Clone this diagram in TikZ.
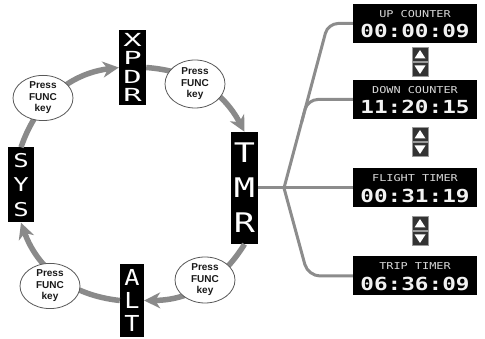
\documentclass[tikz,border=0pt]{standalone}
\usepackage{fontspec}
\usetikzlibrary{arrows.meta,shapes.geometric,calc}
\newfontfamily\pressfont{Liberation Sans}
\newfontfamily\lcdX[FakeStretch=1.7]{DejaVu Sans Mono}
\newfontfamily\lcdT[FakeStretch=1.3]{DejaVu Sans Mono}
\newfontfamily\lcdA[FakeStretch=1.15]{DejaVu Sans Mono}
\newfontfamily\lcdS[FakeStretch=1.35]{DejaVu Sans Mono}
\newfontfamily\lcdL[FakeStretch=1.25]{DejaVu Sans Mono}
\newfontfamily\lcdD[FakeStretch=1.26]{DejaVu Sans Mono}
\definecolor{arcgray}{HTML}{8A8A8A}
\definecolor{conngray}{HTML}{8C8C8C}
\begin{document}
\begin{tikzpicture}[x=1pt,y=1pt,
  lcdbox/.style={fill=black, text=white, inner sep=0pt, align=center},
  arcarrow/.style={draw=arcgray, line width=5.5pt, -{Stealth[length=16pt,width=16pt,inset=5pt,fill=arcgray]}},
  pressnode/.style={ellipse, draw=black!65, line width=0.8pt, fill=white, inner sep=0pt, align=center,
    font=\pressfont\bfseries\fontsize{10}{11.5}\selectfont, text=black!90},
  timerbox/.style={fill=black, minimum width=124pt, minimum height=39pt, inner sep=0pt},
  timerlbl/.style={text=black!15, font=\lcdL\fontsize{9.5}{10}\selectfont, inner sep=0pt},
  timerdig/.style={text=black!5, font=\lcdD\bfseries\fontsize{18}{18}\selectfont, inner sep=0pt},
  conn/.style={draw=conngray, line width=3pt},
  updown/.pic={
    \filldraw[fill=black!80, draw=black!40, line width=0.8pt] (-8,0.8) rectangle (8,14.5);
    \fill[white] (-5.5,3.5) -- (5.5,3.5) -- (0,12) -- cycle;
    \filldraw[fill=black!80, draw=black!40, line width=0.8pt] (-8,-0.8) rectangle (8,-14.5);
    \fill[white] (-5.5,-3.5) -- (5.5,-3.5) -- (0,-12) -- cycle;
  }
]
\useasboundingbox (0,0) rectangle (485,339);

% mode boxes
\node[lcdbox, minimum width=27pt, minimum height=75pt, font=\lcdX\fontsize{18}{18.5}\selectfont] (xpdr) at (132.5,271.5) {X\\P\\D\\R};
\node[lcdbox, minimum width=27pt, minimum height=112pt, font=\lcdT\fontsize{27}{35}\selectfont] (tmr) at (244.5,151) {T\\M\\R};
\node[lcdbox, minimum width=24pt, minimum height=73pt, font=\lcdA\fontsize{22}{23}\selectfont] (alt) at (132,38.5) {A\\L\\T};
\node[lcdbox, minimum width=26pt, minimum height=75pt, font=\lcdS\fontsize{19}{24.5}\selectfont] (sys) at (21,154) {S\\Y\\S};

% cycle arrows
\draw[arcarrow] (sys.north) to[bend left=32] (xpdr.west);
\draw[arcarrow] (xpdr.east) to[bend left=29] (tmr.north);
\draw[arcarrow] (tmr.south) to[bend left=29] (alt.east);
\draw[arcarrow] (alt.west) to[bend left=32] (sys.south);

% press func key ellipses
\node[pressnode, minimum width=60pt, minimum height=42pt] (e1) at (43,241) {Press\\FUNC\\key};
\node[pressnode, minimum width=60pt, minimum height=48pt] (e2) at (195,255) {Press\\FUNC\\key};
\node[pressnode, minimum width=60pt, minimum height=46pt] (e3) at (205,59) {Press\\FUNC\\key};
\node[pressnode, minimum width=60pt, minimum height=42pt] (e4) at (50,53) {Press\\FUNC\\key};

% timer boxes
\node[timerbox] (up) at (415,315.5) {};
\node[timerlbl] (uplbl) at ($(up.center)+(0,9.5)$) {UP COUNTER};
\node[timerdig] (updig) at ($(up.center)+(0,-7.5)$) {00:00:09};

\node[timerbox] (down) at (415,239.5) {};
\node[timerlbl] (downlbl) at ($(down.center)+(0,9.5)$) {DOWN COUNTER};
\node[timerdig] (downdig) at ($(down.center)+(0,-7.5)$) {11:20:15};

\node[timerbox] (flight) at (415,151) {};
\node[timerlbl] (flightlbl) at ($(flight.center)+(0,9.5)$) {FLIGHT TIMER};
\node[timerdig] (flightdig) at ($(flight.center)+(0,-7.5)$) {00:31:19};

\node[timerbox] (trip) at (415,63) {};
\node[timerlbl] (triplbl) at ($(trip.center)+(0,9.5)$) {TRIP TIMER};
\node[timerdig] (tripdig) at ($(trip.center)+(0,-7.5)$) {06:36:09};

% up/down icons
\pic (ud1) at (420,277) {updown};
\pic (ud2) at (420,197) {updown};
\pic (ud3) at (420,108) {updown};

% connectors
\coordinate (J) at (284,151);
\coordinate (cu) at (328,315.5);
\coordinate (ct) at (308,63);
\draw[conn] (tmr.east) -- (flight.west);
\draw[conn, rounded corners=10pt] (J) -- (cu) -- (up.west);
\draw[conn, rounded corners=10pt] ($(J)!0.4!(cu)$) -- ($(J)!0.538!(cu)$) -- (down.west);
\draw[conn, rounded corners=12pt] (J) -- (ct) -- (trip.west);
\end{tikzpicture}
\end{document}
